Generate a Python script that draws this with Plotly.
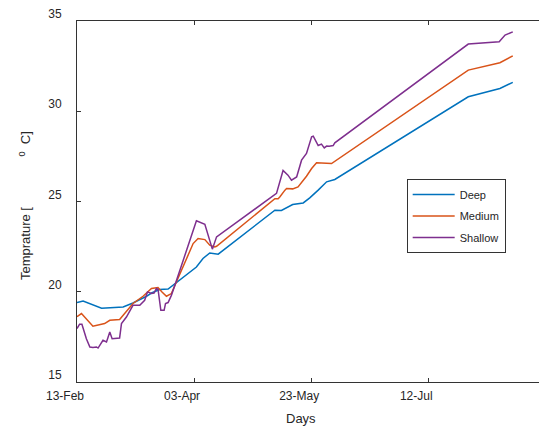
import pandas as pd
import plotly.graph_objects as go

BASE_DATE = "2020-02-13"

# days since 13-Feb and temperatures (deg C)
deep_days = [0, 2.6, 10.5, 19.7, 23.9, 29.7, 31.8, 35.3, 38.9, 51.0, 53.8, 56.7, 60.3,
             84.5, 87.3, 92.1, 96.6, 99.4, 103.0, 106.6, 110.1, 167.1, 180.6, 186.1]
deep_temp = [19.40, 19.49, 19.09, 19.16, 19.38, 19.75, 19.93, 20.12, 20.15, 21.37, 21.84, 22.15, 22.08,
             24.52, 24.50, 24.83, 24.92, 25.20, 25.63, 26.09, 26.22, 30.80, 31.26, 31.60]

medium_days = [0, 1.9, 6.8, 11.8, 14.0, 18.2, 23.9, 28.2, 31.8, 34.6, 36.3, 38.2, 40.3, 41.8,
               49.6, 51.7, 54.6, 56.7, 58.8, 59.6, 84.5, 85.9, 86.6, 88.8, 89.5, 92.1, 94.4,
               98.0, 100.2, 102.3, 106.6, 108.7, 167.1, 180.6, 186.1]
medium_temp = [18.62, 18.79, 18.09, 18.24, 18.42, 18.46, 19.35, 19.75, 20.18, 20.23, 19.99, 19.75, 19.90, 20.36,
               22.67, 22.95, 22.89, 22.58, 22.48, 22.52, 25.15, 25.15, 25.25, 25.63, 25.72, 25.70, 25.81,
               26.40, 26.83, 27.14, 27.14, 27.10, 32.28, 32.69, 33.07]

shallow_days = [0, 1.1, 2.1, 4.0, 5.5, 6.8, 8.3, 9.0, 11.1, 12.6, 13.2, 14.0, 15.0, 18.2, 19.0,
                21.1, 23.9, 26.8, 28.9, 30.1, 31.8, 32.9, 33.9, 34.6, 35.8, 37.2, 37.8, 38.9,
                40.3, 41.8, 51.0, 54.6, 57.8, 59.6, 85.2, 88.0, 90.1, 91.6, 93.8, 95.9, 98.0,
                100.2, 100.9, 102.3, 103.0, 104.4, 105.6, 106.6, 107.7, 109.4, 110.1, 167.1,
                180.3, 182.8, 186.1]
shallow_temp = [17.96, 18.20, 18.20, 17.40, 16.94, 16.91, 16.94, 16.88, 17.31, 17.22, 17.45, 17.77, 17.40, 17.44, 18.24,
                18.60, 19.25, 19.25, 19.53, 19.99, 19.90, 19.93, 20.18, 20.14, 18.97, 18.97, 19.35, 19.40,
                19.80, 20.36, 23.93, 23.74, 22.36, 23.04, 25.45, 26.72, 26.46, 26.18, 26.36, 27.29, 27.66,
                28.58, 28.62, 28.30, 28.10, 28.18, 27.97, 28.07, 28.06, 28.10, 28.25, 33.72,
                33.85, 34.22, 34.40]

series_names = ["Deep", "Medium", "Shallow"]
series_colors = ["#0072BD", "#D95319", "#7E2F8E"]

x_tick_days = [0, 50, 100, 150]
x_range_days = [0, 197.3]
y_ticks = [15, 20, 25, 30, 35]
y_range = [15, 35]


def to_dates(days):
    return pd.Timestamp(BASE_DATE) + pd.to_timedelta(days, unit="D")


FONT = "Liberation Sans, Arial, sans-serif"
TXT = "#262626"

fig = go.Figure()
for name, color, d, t in zip(series_names, series_colors,
                             [deep_days, medium_days, shallow_days],
                             [deep_temp, medium_temp, shallow_temp]):
    fig.add_trace(go.Scatter(x=to_dates(d), y=t, mode="lines", name=name,
                             legendgroup=name,
                             line=dict(color=color, width=1.5)))

fig.update_layout(
    width=539, height=430,
    margin=dict(l=77, r=0, t=21, b=48),
    paper_bgcolor="white", plot_bgcolor="white",
    font=dict(family=FONT, size=11, color=TXT),
    showlegend=True,
    legend=dict(x=0.7136, y=0.562, xanchor="left", yanchor="top",
                bordercolor="#333333", borderwidth=1, bgcolor="white",
                font=dict(size=11, color=TXT), itemwidth=42,
                tracegroupgap=2.5),
)

fig.update_xaxes(
    range=list(to_dates(x_range_days)),
    tickvals=list(to_dates(x_tick_days)), tickformat="%d-%b",
    showgrid=False, zeroline=False,
    showline=True, linecolor="#333333", linewidth=1, mirror="ticks",
    ticks="inside", ticklen=4, tickcolor="#333333",
    ticklabelstandoff=3, ticklabelshift=-12,
    tickfont=dict(size=12, color=TXT),
)
fig.update_yaxes(
    range=y_range, tickvals=y_ticks,
    showgrid=False, zeroline=False,
    showline=True, linecolor="#333333", linewidth=1, mirror=False,
    ticks="inside", ticklen=4, tickcolor="#333333",
    ticklabelstandoff=12, ticklabelshift=-7,
    tickfont=dict(size=12, color=TXT),
)

nb = "\u00a0"
fig.add_annotation(text="Days", xref="paper", yref="paper",
                   x=(301 - 77) / 462, y=-(419 - 382) / 361,
                   xanchor="center", yanchor="middle", showarrow=False,
                   font=dict(size=13, color=TXT))
fig.add_annotation(text="Temprature [" + nb * 14 + "<sup>0</sup>" + nb * 2 + "C]",
                   xref="paper", yref="paper",
                   x=-(77 - 25) / 462, y=(382 - 206) / 361, textangle=-90,
                   xanchor="center", yanchor="middle", showarrow=False,
                   font=dict(size=13, color=TXT))

fig.write_html("out.html")
